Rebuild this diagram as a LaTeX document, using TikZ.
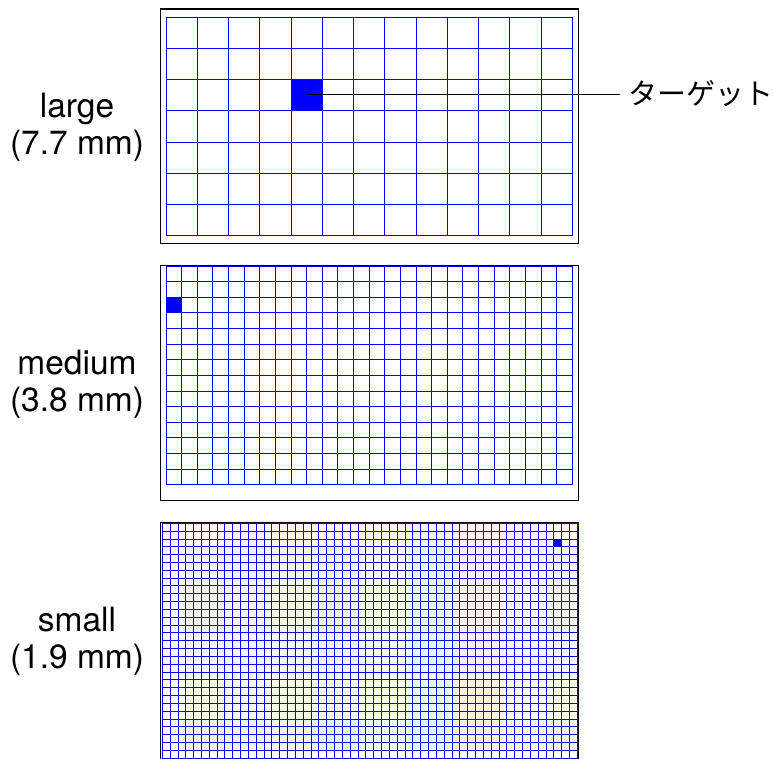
\documentclass[tikz,border=0pt]{standalone}
\usepackage{fontspec}
\setmainfont{TeX Gyre Heros}
\newfontfamily\jpfont{Noto Sans CJK JP}

\tikzset{
  frame/.style={draw=black, line width=1.3pt},
  gridline/.style={blue, line width=0.9pt},
  hit/.style={fill=blue},
  sizelabel/.style={align=center, font=\fontsize{33.5}{37}\selectfont},
  jplabel/.style={anchor=west, inner sep=8pt, font=\jpfont\fontsize{29}{33}\selectfont},
}

\begin{document}
\begin{tikzpicture}[x=1pt, y=-1pt]
    \useasboundingbox (0,0) rectangle (774,758);
    \clip (0,0) rectangle (774,758);

    % large grid, 13 x 7 cells
    \draw[frame] (160.3,9) rectangle (578.3,243.7);
    \fill[hit] (291,79.5) rectangle (322.25,110.75);
    \foreach \i in {0,...,13}
        \draw[gridline] ({166+\i*31.25},17) -- ({166+\i*31.25},235.75);
    \foreach \j in {0,...,7}
        \draw[gridline] (166,{17+\j*31.25}) -- (572.25,{17+\j*31.25});

    % medium grid, 26 x 14 cells
    \draw[frame] (160.3,265.3) rectangle (578.3,500.7);
    \fill[hit] (166,297.25) rectangle (181.63,312.88);
    \foreach \i in {0,...,26}
        \draw[gridline] ({166+\i*15.625},266) -- ({166+\i*15.625},484.75);
    \foreach \j in {0,...,14}
        \draw[gridline] (166,{266+\j*15.625}) -- (572.25,{266+\j*15.625});

    % small grid, runs off the bottom
    \draw[frame] (160.3,800) -- (160.3,522.3) -- (578,522.3) -- (578,800);
    \fill[hit] (553.8,539) rectangle (561.6,546.8);
    \foreach \i in {0,...,53}
        \draw[gridline] ({162.3+\i*7.83},523.3) -- ({162.3+\i*7.83},770);
    \foreach \j in {0,...,30}
        \draw[gridline] (162.3,{523.3+\j*7.83}) -- (577.3,{523.3+\j*7.83});

    % labels
    \node[sizelabel] (large) at (77,127) {large\\(7.7 mm)};
    \node[sizelabel] (medium) at (77,384) {medium\\(3.8 mm)};
    \node[sizelabel] (small) at (77,641) {small\\(1.9 mm)};

    \coordinate (tgt) at (306.6,94);
    \node[jplabel] (tgtlabel) at (620,94) {ターゲット};
    \draw[line width=1pt] (tgt) -- (tgtlabel.west);
\end{tikzpicture}
\end{document}
